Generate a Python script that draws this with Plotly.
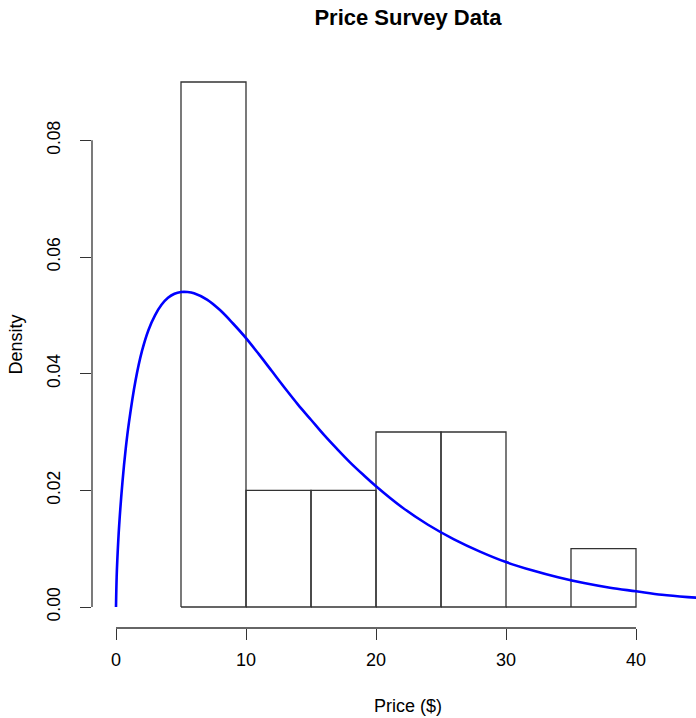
import plotly.graph_objects as go

# Histogram (density scale)
bin_edges = [5, 10, 15, 20, 25, 30, 35, 40]
densities = [0.09, 0.02, 0.02, 0.03, 0.03, 0.0, 0.01]

# Fitted density curve
curve_x = [0, 0.05, 0.1, 0.25, 0.5, 0.75, 1, 1.5, 2, 2.5, 3, 3.5, 4, 4.5, 5, 5.5, 6, 7,
           8, 9, 10, 11, 12, 13, 14, 15, 16, 17, 18, 19, 20, 22, 24, 26, 28, 30, 32,
           34, 36, 38, 40, 42, 44, 46]
curve_y = [0, 0.0051, 0.0080, 0.0142, 0.0215, 0.0272, 0.0317, 0.0388, 0.0439, 0.0475,
           0.0500, 0.0518, 0.0530, 0.0537, 0.0540, 0.0540, 0.0538, 0.0527, 0.0509,
           0.0486, 0.0461, 0.0433, 0.0404, 0.0375, 0.0347, 0.0321, 0.0295, 0.0271,
           0.0248, 0.0227, 0.0207, 0.0171, 0.0141, 0.0116, 0.0095, 0.0077, 0.0063,
           0.0051, 0.0041, 0.0033, 0.0027, 0.0021, 0.0017, 0.0014]

x_ticks = [0, 10, 20, 30, 40]
y_ticks = [0.00, 0.02, 0.04, 0.06, 0.08]
y_tick_labels = ["0.00", "0.02", "0.04", "0.06", "0.08"]

title = "Price Survey Data"
x_label = "Price ($)"
y_label = "Density"

FONT = "Liberation Sans, Arial, Helvetica, sans-serif"
LINE = "#333333"

# build rectangle outlines from histogram data
hx, hy = [], []
for i, d in enumerate(densities):
    a, b = bin_edges[i], bin_edges[i + 1]
    hx += [a, a, b, b, a, None]
    hy += [0, d, d, 0, 0, None]

fig = go.Figure()
fig.add_trace(go.Scatter(x=hx, y=hy, mode="lines",
                         line=dict(color=LINE, width=1.3),
                         hoverinfo="skip", showlegend=False))
fig.add_trace(go.Scatter(x=curve_x, y=curve_y, mode="lines",
                         line=dict(color="#0000FF", width=2.6, shape="spline"),
                         showlegend=False))

fig.update_layout(
    width=696, height=718,
    margin=dict(l=92, r=0, t=61, b=90, pad=0),
    plot_bgcolor="white", paper_bgcolor="white",
    font=dict(family=FONT, size=18, color="#000000"),
    showlegend=False,
    title=dict(text="<b>" + title + "</b>", x=408 / 696, xanchor="center",
               xref="container", yref="container", y=1 - 17 / 718,
               yanchor="middle", font=dict(size=22, family=FONT, color="#000000")),
    xaxis=dict(range=[-1.846, 44.615], tickvals=x_ticks,
               ticktext=[str(v) for v in x_ticks],
               ticks="outside", ticklen=11, tickwidth=1.3, tickcolor=LINE,
               showgrid=False, zeroline=False, showline=False,
               tickfont=dict(size=18, color="#000000"), ticklabelstandoff=4),
    yaxis=dict(range=[-0.0036, 0.0936], tickvals=y_ticks, ticktext=y_tick_labels,
               ticks="outside", ticklen=11, tickwidth=1.3, tickcolor=LINE,
               showgrid=False, zeroline=False, showline=False, tickangle=-90,
               tickfont=dict(size=17.5, color="#000000"), ticklabelstandoff=13),
)

# R-style axis lines spanning first to last tick
fig.add_shape(type="line", xref="x", yref="paper", x0=x_ticks[0], x1=x_ticks[-1],
              y0=0, y1=0, line=dict(color=LINE, width=1.3))
fig.add_shape(type="line", xref="paper", yref="y", x0=0, x1=0,
              y0=y_ticks[0], y1=y_ticks[-1], line=dict(color=LINE, width=1.3))

fig.add_annotation(text=x_label, xref="paper", yref="paper",
                   x=(408 - 92) / 604, y=-(706 - 628) / 567,
                   xanchor="center", yanchor="middle", showarrow=False,
                   font=dict(size=18, family=FONT))
fig.add_annotation(text=y_label, xref="paper", yref="paper",
                   x=-(92 - 15) / 604, y=0.5, textangle=-90,
                   xanchor="center", yanchor="middle", showarrow=False,
                   font=dict(size=18, family=FONT))

fig.write_html("out.html",
               config={"displayModeBar": False},
               post_script="document.body.style.margin='0';"
                           "document.body.style.overflow='hidden';")
